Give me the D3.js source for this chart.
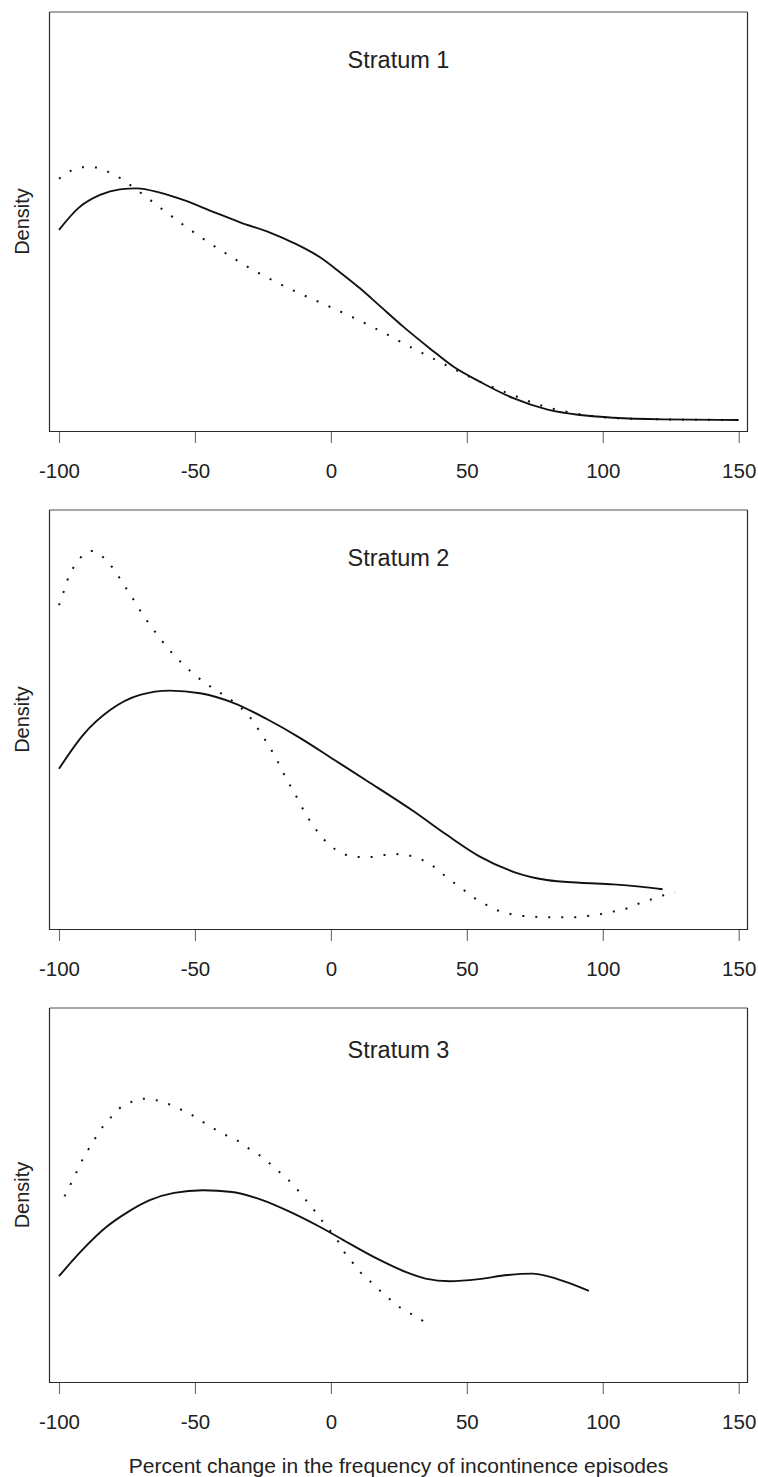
<!DOCTYPE html>
<html>
<head>
<meta charset="utf-8">
<script src="https://cdn.jsdelivr.net/npm/d3@7"></script>
<style>
  body { margin: 0; background: #fff; }
  svg { display: block; font-family: "Liberation Sans", Arial, Helvetica, sans-serif; }
</style>
</head>
<body>
<svg class="chart"></svg>
<script>
// Tick labels on the shared x axis
var xTicks = [-100, -50, 0, 50, 100, 150];
var titles = ["Stratum 1", "Stratum 2", "Stratum 3"];

// Density curves: [percent change, density]
var stratum1Solid = [[-100, 0.00576], [-92.9, 0.00642], [-84.9, 0.00682], [-77.6, 0.00699], [-71.4, 0.00702],
  [-62.9, 0.00689], [-54.3, 0.00667], [-43.3, 0.00631], [-33.4, 0.00599], [-22.4, 0.00568], [-13.8, 0.00537],
  [-4.0, 0.00493], [3.3, 0.00448], [10.7, 0.00399], [18.1, 0.00345], [26.6, 0.00283], [36.4, 0.00217],
  [45.0, 0.00162], [54.8, 0.00116], [67.1, 0.00066], [79.4, 0.00032], [91.6, 0.00015], [103.9, 0.00007],
  [122.3, 0.00002], [150, 0.0]];
var stratum1Dotted = [[-100, 0.00731], [-95.7, 0.00755], [-91.1, 0.00766], [-86.1, 0.00765], [-81.6, 0.00751],
  [-77.3, 0.00732], [-73.3, 0.00709], [-69.4, 0.00685], [-61.6, 0.00636], [-53.7, 0.00588], [-45.7, 0.00542],
  [-37.5, 0.00499], [-29.1, 0.00457], [-20.4, 0.00419], [-11.6, 0.00384], [-2.8, 0.00352], [6.3, 0.00318],
  [15.0, 0.00283], [19.3, 0.00265], [27.9, 0.00227], [36.7, 0.00190], [45.3, 0.00154], [58.5, 0.00103],
  [67.7, 0.00073], [76.9, 0.00045], [86.7, 0.00025], [96.5, 0.00012], [106.3, 0.00005], [122, 0.00002], [150, 0.0]];

var stratum2Solid = [[-100, 0.00452], [-91.1, 0.00555], [-81.2, 0.00630], [-70.2, 0.00676], [-59.2, 0.00689],
  [-48.1, 0.00681], [-35.9, 0.00652], [-23.6, 0.00603], [-11.4, 0.00546], [0.9, 0.00481], [13.2, 0.00416],
  [30.3, 0.00324], [42.6, 0.00252], [54.8, 0.00186], [67.1, 0.00140], [79.4, 0.00115], [91.6, 0.00107],
  [103.9, 0.00102], [113.7, 0.00095], [122.0, 0.00087]];
var stratum2Dotted = [[-100, 0.00948], [-98.4, 0.00986], [-96.9, 0.01024], [-94.7, 0.01062], [-92.0, 0.01093],
  [-87.9, 0.01112], [-83.7, 0.01093], [-80.4, 0.01063], [-77.6, 0.01029], [-74.9, 0.00994], [-72.3, 0.00961],
  [-69.7, 0.00926], [-67.0, 0.00893], [-64.1, 0.00861], [-61.1, 0.00829], [-58.0, 0.00799], [-54.5, 0.00770],
  [-51.0, 0.00743], [-47.2, 0.00718], [-43.3, 0.00696], [-39.3, 0.00675], [-35.3, 0.00652], [-31.6, 0.00625],
  [-28.5, 0.00595], [-25.8, 0.00560], [-23.1, 0.00526], [-20.7, 0.00492], [-18.5, 0.00457], [-16.3, 0.00420],
  [-13.8, 0.00385], [-11.6, 0.00351], [-9.2, 0.00314], [-6.5, 0.00280], [-3.6, 0.00248], [-0.2, 0.00219],
  [3.7, 0.00198], [8.2, 0.00186], [13.2, 0.00184], [18.1, 0.00189], [22.7, 0.00194], [27.6, 0.00191],
  [32.1, 0.00181], [36.4, 0.00164], [40.4, 0.00138], [44.2, 0.00113], [48.1, 0.00090], [52.0, 0.00065],
  [56.1, 0.00045], [60.4, 0.00026], [65.0, 0.00014], [69.8, 0.00007], [74.4, 0.00004], [79.4, 0.00002],
  [84.3, 0.00002], [89.2, 0.00002], [94.1, 0.00006], [98.7, 0.00011], [103.5, 0.00019], [108.2, 0.00027],
  [112.7, 0.00042], [117.4, 0.00055], [122.0, 0.00068], [126.6, 0.00077]];

var stratum3Solid = [[-100, 0.00324], [-91.5, 0.00413], [-82.6, 0.00492], [-74.6, 0.00544], [-66.6, 0.00584],
  [-57.7, 0.00609], [-47.0, 0.00618], [-36.3, 0.00612], [-25.7, 0.00586], [-15.0, 0.00544], [-4.3, 0.00494],
  [6.4, 0.00438], [17.0, 0.00384], [27.7, 0.00338], [34.8, 0.00316], [43.7, 0.00307], [54.4, 0.00314],
  [65.0, 0.00328], [73.9, 0.00333], [82.8, 0.00316], [89.9, 0.00293], [94.9, 0.00274]];
var stratum3Dotted = [[-98.0, 0.00597], [-95.9, 0.00635], [-93.8, 0.00675], [-91.5, 0.00720], [-89.2, 0.00757],
  [-86.6, 0.00797], [-84.0, 0.00834], [-80.8, 0.00868], [-77.6, 0.00899], [-73.3, 0.00920], [-68.7, 0.00931],
  [-63.9, 0.00925], [-59.5, 0.00912], [-55.0, 0.00893], [-50.9, 0.00874], [-47.0, 0.00851], [-42.9, 0.00828],
  [-38.5, 0.00806], [-34.6, 0.00789], [-30.1, 0.00760], [-26.2, 0.00737], [-22.7, 0.00711], [-18.9, 0.00680],
  [-15.3, 0.00650], [-12.3, 0.00620], [-9.3, 0.00586], [-6.1, 0.00549], [-2.9, 0.00509], [0.1, 0.00475],
  [2.8, 0.00441], [4.9, 0.00407], [7.8, 0.00373], [10.8, 0.00338], [14.3, 0.00308], [17.9, 0.00276],
  [21.5, 0.00247], [25.6, 0.00216], [29.8, 0.00194], [33.9, 0.00171]];

var solidSeries = [stratum1Solid, stratum2Solid, stratum3Solid];
var dottedSeries = [stratum1Dotted, stratum2Dotted, stratum3Dotted];

// Layout
var width = 758, height = 1477,
    boxLeft = 49.5, boxRight = 747.5;
var panels = [
  {top: 12, bottom: 431, titleY: 68},
  {top: 510, bottom: 929, titleY: 566},
  {top: 1008, bottom: 1382, titleY: 1058}
];

var svg = d3.select(".chart")
    .attr("width", width)
    .attr("height", height);

svg.append("rect").attr("width", width).attr("height", height).attr("fill", "#fff");

var x = d3.scaleLinear()
    .domain([-100, 150])
    .range([59, 738.7]);

// plain hyphen for negatives, as in the original
var xAxis = d3.axisBottom(x)
    .tickValues(xTicks)
    .tickSize(11)
    .tickFormat(function(d) { return String(d); });

panels.forEach(function(p, i) {
  var y = d3.scaleLinear()
      .domain([0, 0.012])
      .range([p.bottom - 11, p.top + 12]);

  var line = d3.line()
      .x(function(d) { return x(d[0]); })
      .y(function(d) { return y(d[1]); })
      .curve(d3.curveMonotoneX);

  var g = svg.append("g").attr("class", "panel");

  // Box: top edge drawn lighter as in the scan
  g.append("line")
      .attr("x1", boxLeft).attr("x2", boxRight)
      .attr("y1", p.top).attr("y2", p.top)
      .attr("stroke", "#8a8a8a").attr("stroke-width", 1.6);
  g.append("path")
      .attr("d", "M" + boxLeft + "," + p.top + "V" + (p.bottom + 0.5) + "H" + boxRight + "V" + p.top)
      .attr("fill", "none")
      .attr("stroke", "#2a2a2a")
      .attr("stroke-width", 1.2);

  // x axis
  var ax = g.append("g")
      .attr("transform", "translate(0," + (p.bottom + 1) + ")")
      .call(xAxis);
  ax.select(".domain").remove();
  ax.selectAll(".tick line").attr("stroke", "#6a6a6a").attr("stroke-width", 1.1);
  ax.selectAll(".tick text")
      .attr("y", 45.5)
      .attr("dy", null)
      .attr("fill", "#222")
      .style("font-size", "20.5px")
      .style("font-family", "'Liberation Sans', Arial, Helvetica, sans-serif");

  // Title
  g.append("text")
      .attr("x", (boxLeft + boxRight) / 2)
      .attr("y", p.titleY)
      .attr("text-anchor", "middle")
      .attr("fill", "#222")
      .style("font-size", "23.5px")
      .text(titles[i]);

  // y label
  g.append("text")
      .attr("transform", "translate(28.5," + ((p.top + p.bottom) / 2) + ") rotate(-90)")
      .attr("text-anchor", "middle")
      .attr("fill", "#222")
      .style("font-size", "20px")
      .text("Density");

  // Curves
  g.append("path")
      .datum(dottedSeries[i])
      .attr("d", line)
      .attr("fill", "none")
      .attr("stroke", "#111")
      .attr("stroke-width", 2)
      .attr("stroke-dasharray", "2,11");

  g.append("path")
      .datum(solidSeries[i])
      .attr("d", line)
      .attr("fill", "none")
      .attr("stroke", "#111")
      .attr("stroke-width", 1.9);
});

// x axis title
svg.append("text")
    .attr("x", (boxLeft + boxRight) / 2)
    .attr("y", 1473)
    .attr("text-anchor", "middle")
    .attr("fill", "#222")
    .style("font-size", "21px")
    .text("Percent change in the frequency of incontinence episodes");
</script>
</body>
</html>
